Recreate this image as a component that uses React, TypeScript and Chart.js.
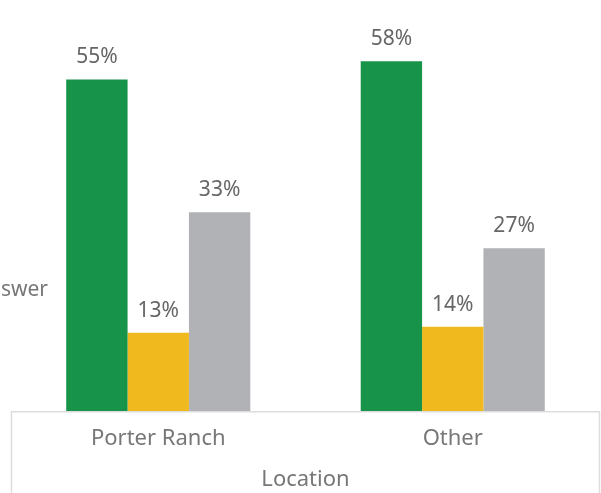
import React, { useEffect, useRef } from "react";
import { Chart, registerables } from "chart.js";

Chart.register(...registerables);

const categories = ["Porter Ranch", "Other"];
const seriesNames = ["Yes", "No", "Don't know"];
const greenValues = [55, 58];
const yellowValues = [13, 14];
const grayValues = [33, 27];
const seriesColors = ["#17934A", "#F0BA1E", "#B1B2B5"];
const xTitle = "Location";
const yTitle = "Answer";

const FONT = "'Noto Sans', sans-serif";

const valueLabelPlugin = {
  id: "valueLabels",
  afterDatasetsDraw(chart: any) {
    const ctx = chart.ctx;
    ctx.save();
    ctx.font = `21px ${FONT}`;
    ctx.fillStyle = "#666666";
    ctx.textAlign = "center";
    ctx.textBaseline = "middle";
    chart.data.datasets.forEach((ds: any, i: number) => {
      const meta = chart.getDatasetMeta(i);
      meta.data.forEach((el: any, j: number) => {
        ctx.fillText(`${ds.data[j]}%`, el.x, el.y - 22);
      });
    });
    ctx.restore();
  },
};

const boxPlugin = {
  id: "axisBox",
  afterDraw(chart: any) {
    const ctx = chart.ctx;
    const area = chart.chartArea;
    const xScale = chart.scales.x;
    ctx.save();
    ctx.strokeStyle = "#dddddd";
    ctx.lineWidth = 1.5;
    ctx.beginPath();
    ctx.moveTo(area.left + 0.5, xScale.top);
    ctx.lineTo(area.left + 0.5, chart.height);
    ctx.moveTo(area.right - 0.5, xScale.top);
    ctx.lineTo(area.right - 0.5, chart.height);
    ctx.moveTo(area.left, xScale.top + 0.5);
    ctx.lineTo(area.right, xScale.top + 0.5);
    ctx.stroke();
    // horizontal y-axis title
    ctx.font = `21px ${FONT}`;
    ctx.fillStyle = "#777777";
    ctx.textAlign = "right";
    ctx.textBaseline = "middle";
    ctx.fillText(yTitle, area.left + 37, area.bottom - 121);
    ctx.restore();
  },
};

export default function App() {
  const ref = useRef<HTMLCanvasElement>(null);
  useEffect(() => {
    if (!ref.current) return;
    const values = [greenValues, yellowValues, grayValues];
    const chart = new Chart(ref.current, {
      type: "bar",
      data: {
        labels: categories,
        datasets: values.map((v, i) => ({
          label: seriesNames[i],
          data: v,
          backgroundColor: seriesColors[i],
          borderWidth: 0,
          barPercentage: 1,
          categoryPercentage: 0.625,
        })),
      },
      options: {
        responsive: false,
        animation: false,
        layout: { padding: { left: 11, right: 1, top: 1, bottom: 0 } },
        plugins: {
          legend: { display: false },
          tooltip: { enabled: false },
        },
        scales: {
          x: {
            grid: { display: false, drawTicks: false },
            border: { display: false },
            ticks: {
              color: "#777777",
              font: { family: FONT, size: 22 },
              padding: 14.5,
            },
            title: {
              display: true,
              text: xTitle,
              color: "#777777",
              font: { family: FONT, size: 22 },
              padding: { top: 0, bottom: 0 },
            },
          },
          y: {
            display: false,
            min: 0,
            max: 68,
          },
        },
      },
      plugins: [valueLabelPlugin, boxPlugin],
    });
    return () => chart.destroy();
  }, []);
  return (
    <canvas
      ref={ref}
      width={601}
      height={493}
      style={{ position: "fixed", left: 0, top: 0, width: 601, height: 493 }}
    />
  );
}
